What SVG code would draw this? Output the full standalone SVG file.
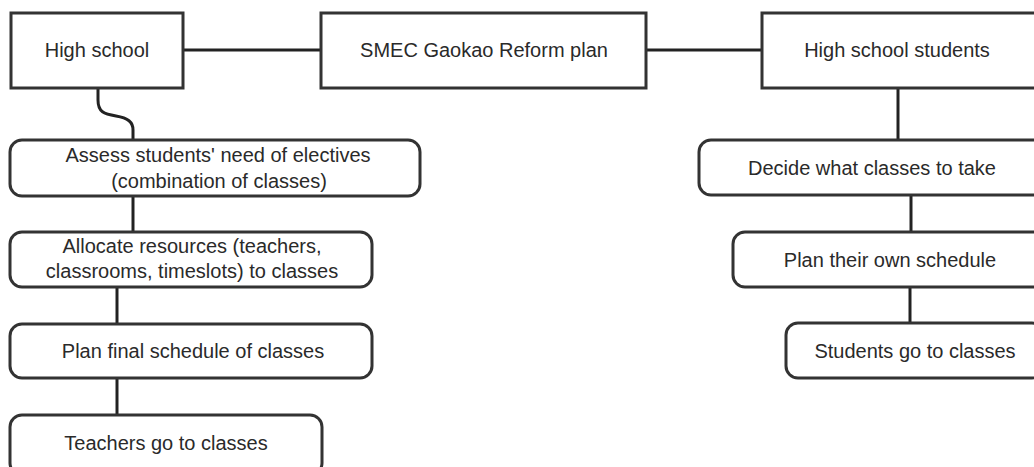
<svg xmlns="http://www.w3.org/2000/svg" width="1034" height="467" viewBox="0 0 1034 467">
<style>
.box{fill:#fff;stroke:#333;stroke-width:3}
.edge{fill:none;stroke:#222;stroke-width:3}
text{font-family:"Liberation Sans",Arial,sans-serif;font-size:20px;fill:#2a2a2a;text-anchor:middle}
</style>
<rect width="1034" height="467" fill="#fff"/>
<g id="connectors">
<path class="edge" d="M183 50H321"/>
<path class="edge" d="M646 50H762"/>
<path class="edge" d="M98 88V100C98 112 104 114 116 116C128 118 133 122 133 130V140"/>
<path class="edge" d="M133 196V232"/>
<path class="edge" d="M117 287V324"/>
<path class="edge" d="M117 378V415"/>
<path class="edge" d="M898 88V140"/>
<path class="edge" d="M911 195V232"/>
<path class="edge" d="M910 287V323"/>
</g>
<g id="high-school"><rect class="box" x="11" y="13" width="172" height="75"/><text x="97" y="57">High school</text></g>
<g id="smec"><rect class="box" x="321" y="13" width="325" height="75"/><text x="484" y="57">SMEC Gaokao Reform plan</text></g>
<g id="hs-students"><rect class="box" x="762" y="13" width="280" height="75"/><text x="897" y="57">High school students</text></g>
<g id="assess"><rect class="box" x="10" y="140" width="410" height="56" rx="12"/><text x="218" y="162">Assess students' need of electives</text><text x="219" y="188">(combination of classes)</text></g>
<g id="allocate"><rect class="box" x="10" y="232" width="362" height="55" rx="12"/><text x="192" y="253">Allocate resources (teachers,</text><text x="192" y="278">classrooms, timeslots) to classes</text></g>
<g id="plan-final"><rect class="box" x="10" y="324" width="362" height="54" rx="12"/><text x="193" y="358">Plan final schedule of classes</text></g>
<g id="teachers"><rect class="box" x="10" y="415" width="312" height="60" rx="12"/><text x="166" y="450">Teachers go to classes</text></g>
<g id="decide"><rect class="box" x="699" y="140" width="346" height="55" rx="12"/><text x="872" y="175">Decide what classes to take</text></g>
<g id="plan-own"><rect class="box" x="733" y="232" width="314" height="55" rx="12"/><text x="890" y="267">Plan their own schedule</text></g>
<g id="students"><rect class="box" x="786" y="323" width="258" height="55" rx="12"/><text x="915" y="358">Students go to classes</text></g>
</svg>
